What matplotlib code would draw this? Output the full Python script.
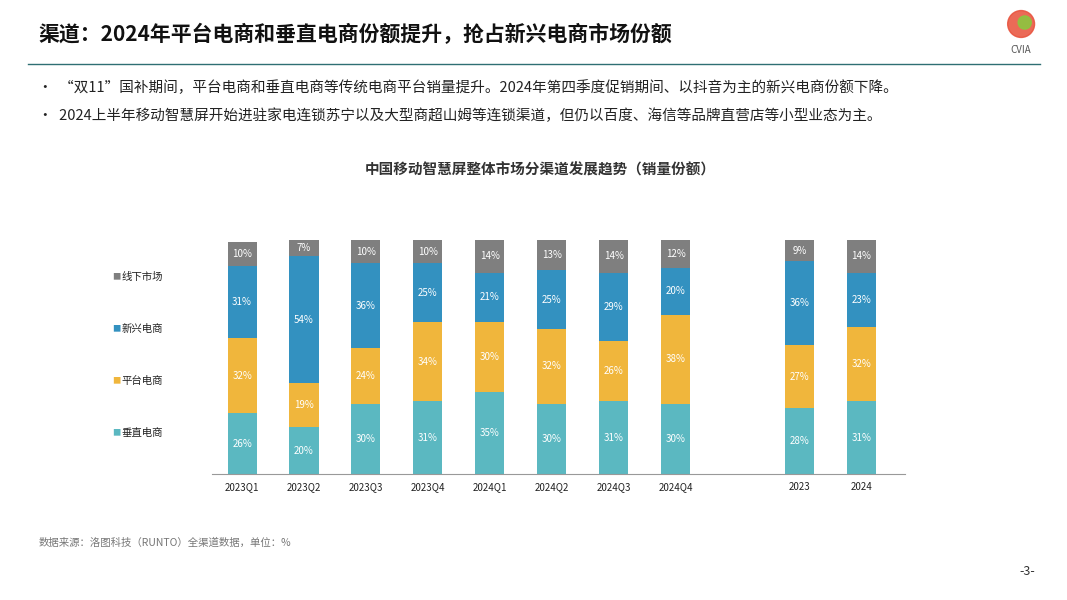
import numpy as np
import matplotlib.pyplot as plt
from matplotlib.patches import Circle

plt.rcParams['font.family'] = ['Noto Sans CJK SC', 'DejaVu Sans']

periods = ["2023Q1", "2023Q2", "2023Q3", "2023Q4", "2024Q1", "2024Q2", "2024Q3", "2024Q4", "2023", "2024"]
positions = [0, 1, 2, 3, 4, 5, 6, 7, 9, 10]
vertical = [26, 20, 30, 31, 35, 30, 31, 30, 28, 31]
platform = [32, 19, 24, 34, 30, 32, 26, 38, 27, 32]
emerging = [31, 54, 36, 25, 21, 25, 29, 20, 36, 23]
offline = [10, 7, 10, 10, 14, 13, 14, 12, 9, 14]

series = [("垂直电商", vertical, "#5BB8C1"), ("平台电商", platform, "#F0B63C"),
          ("新兴电商", emerging, "#3391C0"), ("线下市场", offline, "#7F7F7F")]

fig = plt.figure(figsize=(10.67, 6), dpi=100)

fig.text(0.036, 0.942, "渠道：2024年平台电商和垂直电商份额提升，抢占新兴电商市场份额",
         fontsize=15, fontweight="bold", va="center", color="#111111")
fig.add_artist(plt.Line2D([0.026, 0.975], [0.893, 0.893], color="#2F6F73", lw=1))
fig.text(0.036, 0.853, "•  “双11”国补期间，平台电商和垂直电商等传统电商平台销量提升。2024年第四季度促销期间、以抖音为主的新兴电商份额下降。",
         fontsize=10.5, va="center", color="#222222")
fig.text(0.036, 0.807, "•  2024上半年移动智慧屏开始进驻家电连锁苏宁以及大型商超山姆等连锁渠道，但仍以百度、海信等品牌直营店等小型业态为主。",
         fontsize=10.5, va="center", color="#222222")
fig.text(0.506, 0.718, "中国移动智慧屏整体市场分渠道发展趋势（销量份额）",
         fontsize=10.5, fontweight="bold", ha="center", va="center", color="#333333")

# logo
logo = fig.add_axes([0.943, 0.935, 0.028, 0.05])
logo.add_patch(Circle((0.5, 0.5), 0.45, color="#E8503A", alpha=0.85))
logo.add_patch(Circle((0.62, 0.55), 0.22, color="#8CC63F", alpha=0.9))
logo.set_xlim(0, 1)
logo.set_ylim(0, 1)
logo.set_aspect("equal")
logo.axis("off")
fig.text(0.957, 0.917, "CVIA", fontsize=7, ha="center", va="center", color="#555555")

ax = fig.add_axes([0.199, 0.21, 0.649, 0.39])
bottom = np.zeros(len(periods))
for name, vals, col in series:
    vals = np.array(vals)
    ax.bar(positions, vals, 0.47, bottom=bottom, color=col)
    for x, b, v in zip(positions, bottom, vals):
        ax.text(x, b + v / 2, f"{v}%", ha="center", va="center", fontsize=7, color="white")
    bottom += vals

ax.set_xlim(-0.48, 10.7)
ax.set_ylim(0, 100)
ax.set_xticks(positions)
ax.set_xticklabels(periods, fontsize=7, color="#222222")
ax.tick_params(axis="x", length=0, pad=6)
ax.set_yticks([])
for s in ["top", "right", "left"]:
    ax.spines[s].set_visible(False)
ax.spines["bottom"].set_color("#999999")

legend_y = [0.538, 0.452, 0.365, 0.278]
for (name, vals, col), y in zip(series[::-1], legend_y):
    fig.text(0.105, y, "■", fontsize=6, color=col, va="center")
    fig.text(0.114, y, name, fontsize=7.5, color="#222222", va="center")

fig.text(0.036, 0.095, "数据来源：洛图科技（RUNTO）全渠道数据，单位：%", fontsize=7.5, color="#777777", va="center")
fig.text(0.955, 0.047, "-3-", fontsize=9, color="#333333", va="center")

fig.savefig("out.png", dpi=100)
